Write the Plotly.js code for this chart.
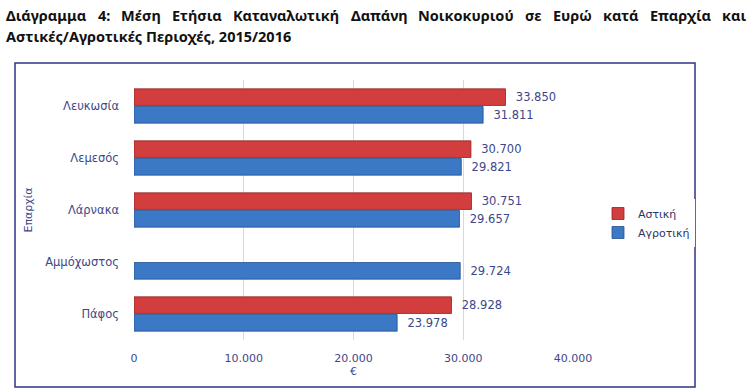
<!DOCTYPE html>
<html>
<head>
<meta charset="utf-8">
<script src="https://cdn.plot.ly/plotly-3.0.1.min.js"></script>
<style>html,body{margin:0;padding:0;background:#fff;}#chart{width:752px;height:390px;}</style>
</head>
<body>
<div id="chart"></div>
<script>
const categories = ["Λευκωσία", "Λεμεσός", "Λάρνακα", "Αμμόχωστος", "Πάφος"];
const urban = [33850, 30700, 30751, null, 28928];
const rural = [31811, 29821, 29657, 29724, 23978];
const seriesNames = ["Αστική", "Αγροτική"];
const xTicks = [0, 10000, 20000, 30000, 40000];
const titleLine1 = ["Διάγραμμα", "4:", "Μέση", "Ετήσια", "Καταναλωτική", "Δαπάνη", "Νοικοκυριού", "σε", "Ευρώ", "κατά", "Επαρχία", "και"];
const titleLine2 = "Αστικές/Αγροτικές Περιοχές, 2015/2016";
const xTitle = "€";
const yTitle = "Επαρχία";

const W = 752, H = 390;
const M = {l: 134, r: 179, t: 80, b: 50};
const PW = W - M.l - M.r, PH = H - M.t - M.b;
const px = x => (x - M.l) / PW;
const py = y => (H - M.b - y) / PH;

const navy = '#3d4789';
const font = 'DejaVu Sans, Verdana, sans-serif';
const titleFamily = 'Noto Sans, sans-serif';
const titleSize = 14.5;
const leftEdge = 5, rightEdge = 746;

const annotations = [];
titleLine1.forEach((w, i) => {
  annotations.push({text: '<b>' + w + '</b>', xref: 'paper', yref: 'paper', x: px(leftEdge + i * 60), y: py(15),
    xanchor: 'left', yanchor: 'middle', showarrow: false, xshift: -1,
    font: {family: titleFamily, size: titleSize, color: '#111'}});
});
annotations.push({text: '<b>' + titleLine2 + '</b>', xref: 'paper', yref: 'paper', x: px(leftEdge), y: py(36),
  xanchor: 'left', yanchor: 'middle', showarrow: false, xshift: -1,
  font: {family: titleFamily, size: titleSize, color: '#111'}});

const data = [
  {type: 'bar', orientation: 'h', name: seriesNames[0], y: categories, x: urban,
   marker: {color: '#d23e3e', line: {color: '#8f2222', width: 0.8}},
   texttemplate: '\u00a0\u00a0%{x:,d}', textposition: 'outside', cliponaxis: false,
   textfont: {family: font, size: 11.5, color: navy}, hoverinfo: 'x+y'},
  {type: 'bar', orientation: 'h', name: seriesNames[1], y: categories, x: rural,
   marker: {color: '#3b78c6', line: {color: '#23508f', width: 0.8}},
   texttemplate: '\u00a0\u00a0%{x:,d}', textposition: 'outside', cliponaxis: false,
   textfont: {family: font, size: 11.5, color: navy}, hoverinfo: 'x+y'}
];

const layout = {
  width: W, height: H,
  margin: M,
  paper_bgcolor: '#fff', plot_bgcolor: '#fff',
  separators: ',.',
  barmode: 'group', bargap: 0.32, bargroupgap: 0.06,
  showlegend: true,
  legend: {x: px(598), y: py(199), xanchor: 'left', yanchor: 'top',
    font: {family: font, size: 11, color: '#2c3366'}, tracegroupgap: 6, itemwidth: 30},
  xaxis: {range: [0, 40000], tickvals: xTicks, tickformat: ',d', showgrid: true,
    gridcolor: '#d9d9d9', gridwidth: 1, zeroline: false, showline: false, ticks: '',
    tickfont: {family: font, size: 11, color: navy}, ticklabelstandoff: 10,
    title: {text: xTitle, font: {family: font, size: 11, color: navy}, standoff: 3}},
  yaxis: {autorange: 'reversed', type: 'category', showgrid: false, zeroline: false, showline: false,
    ticks: '', tickfont: {family: font, size: 11.5, color: navy}, ticklabelstandoff: 14,
    title: {text: yTitle, font: {family: font, size: 11, color: navy}, standoff: 10}},
  annotations: annotations,
  shapes: [{type: 'rect', xref: 'paper', yref: 'paper', x0: px(15), x1: px(695), y0: py(387), y1: py(63),
    line: {color: '#2b3585', width: 1.5}, fillcolor: 'rgba(0,0,0,0)', layer: 'below'}]
};

Plotly.newPlot('chart', data, layout, {displayModeBar: false, staticPlot: true}).then(gd => {
  // justify first title line using rendered word widths
  const texts = gd.querySelectorAll('.annotation .annotation-text');
  const widths = [];
  for (let i = 0; i < titleLine1.length; i++) {
    widths.push(texts[i] ? texts[i].getBBox().width : 50);
  }
  const totalW = widths.reduce((a, b) => a + b, 0);
  const gap = (rightEdge - leftEdge - totalW) / (titleLine1.length - 1);
  const upd = {};
  let cx = leftEdge;
  for (let i = 0; i < titleLine1.length; i++) {
    upd['annotations[' + i + '].x'] = px(cx);
    cx += widths[i] + gap;
  }
  return Plotly.relayout(gd, upd);
});
</script>
</body>
</html>
